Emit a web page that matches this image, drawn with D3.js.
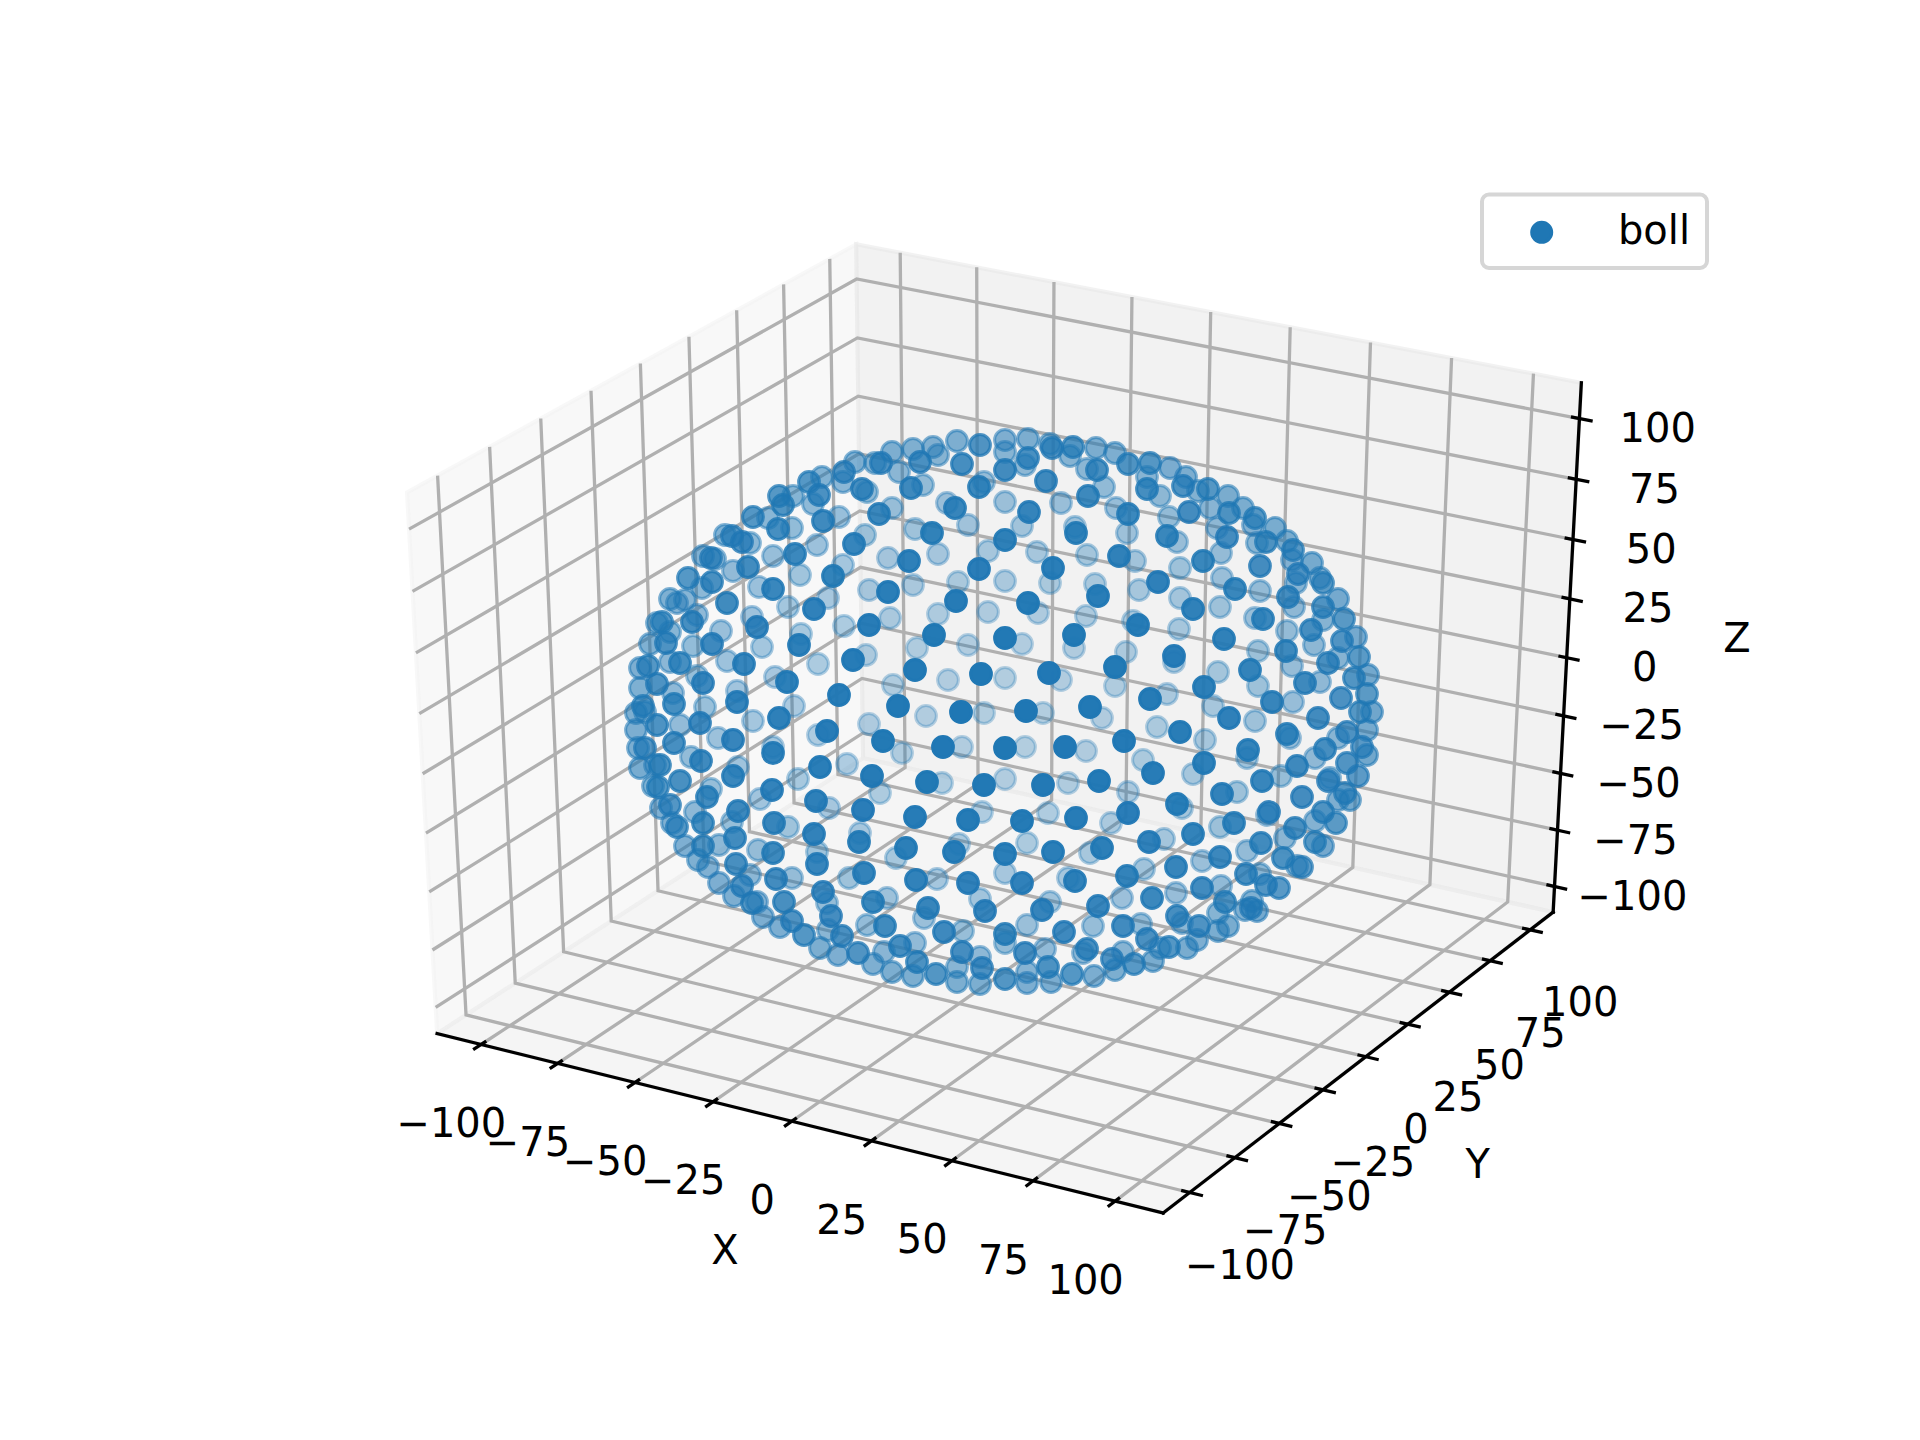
<!DOCTYPE html>
<html>
<head>
<meta charset="utf-8">
<script src="https://cdn.jsdelivr.net/npm/d3@7/dist/d3.min.js"></script>
<style>
html,body{margin:0;padding:0;background:#fff}
svg{display:block}
text{font-family:"DejaVu Sans";fill:#000}
</style>
</head>
<body>
<div id="chart"></div>
<script>
const tickValues = [-100,-75,-50,-25,0,25,50,75,100];
const tickLabels = ["\u2212100","\u221275","\u221250","\u221225","0","25","50","75","100"];
const axisLabels = {x:"X", y:"Y", z:"Z"};
const seriesName = "boll";

// Points, in the projected view plane (sphere centre = 0,0; v grows downward)
const frontPoints = [
[-20,-265],[-38,-246],[-21,-223],[-80,-248],[-119,-247],[-156,-238],[-191,-228],[-138,-221],[-89,-222],[-181,-215],
[-221,-214],[-217,-205],[-247,-193],[-177,-189],[-121,-196],[-45,-202],[-68,-177],[-146,-166],[-222,-181],[-268,-174],
[-258,-168],[-289,-152],[-252,-143],[-205,-156],[-21,-141],[-91,-149],[-167,-134],[-312,-132],[-288,-128],[-227,-121],
[-112,-118],[-44,-109],[-273,-107],[-186,-101],[-338,-88],[-308,-88],[-243,-83],[-131,-85],[-201,-65],[-66,-75],
[-334,-67],[-288,-66],[-147,-50],[-85,-40],[-19,-36],[-256,-46],[-320,-47],[-352,-44],[-297,-27],[-213,-28],
[-343,-26],[-326,-6],[-263,-8],[-161,-15],[-102,-4],[-357,-4],
[5,-240],[28,-252],[52,-262],[73,-263],[46,-229],[97,-240],[88,-214],[128,-246],[150,-247],[147,-221],
[183,-224],[128,-196],[29,-198],[189,-198],[208,-221],[229,-197],[255,-192],[167,-174],[227,-173],[266,-168],
[293,-160],[76,-177],[5,-170],[119,-154],[53,-142],[203,-149],[260,-144],[298,-136],[323,-127],[158,-128],
[235,-121],[288,-113],[323,-103],[28,-107],[98,-114],[193,-101],[263,-91],[344,-91],[311,-80],[138,-85],
[5,-72],[74,-75],[224,-71],[342,-69],[286,-59],[174,-54],[328,-47],[359,-53],[115,-43],[250,-40],
[354,-32],[49,-37],[204,-23],[305,-27],[367,-16],[341,-12],[150,-11],[272,-8],[90,-3],[26,1],
[-343,15],[-355,38],[-300,13],[-267,30],[-221,8],[-173,21],[-117,31],[-57,37],[-39,2],[-326,33],
[-227,43],[-299,51],[-180,57],[-128,66],[-73,72],[-16,75],[-267,66],[-340,55],[-320,71],[-228,80],
[-184,91],[-137,100],[-85,107],[-32,110],[-293,87],[-262,101],[-226,113],[-186,124],[-141,132],[-94,138],
[-46,142],[-297,113],[-265,128],[-227,143],[-183,154],[-136,163],[-84,170],[-32,173],[-264,154],[-224,169],
[-177,182],[-127,192],[-72,198],[-15,201],[-216,192],[-169,206],[-115,216],[-56,222],[-258,176],[-248,193],
[-297,136],[-342,77],[-330,95],[-323,117],[-158,226],[-100,236],[-38,242],[-208,211],[-196,225],[-142,243],
[-83,252],[-64,264],[-18,258],
[5,38],[65,37],[124,31],[180,22],[229,8],[318,8],[360,2],[248,40],[287,24],[325,39],
[347,22],[204,53],[153,63],[43,75],[99,71],[297,56],[262,71],[347,53],[358,66],[328,71],
[362,37],[302,87],[222,84],[177,94],[345,83],[128,103],[76,108],[22,111],[269,102],[323,102],
[336,113],[234,113],[193,124],[295,118],[149,132],[102,138],[53,142],[5,144],[261,133],[315,132],
[220,147],[283,148],[302,157],[176,157],[127,166],[75,171],[22,173],[246,164],[266,175],[279,178],
[202,178],[152,188],[98,196],[42,200],[225,192],[177,206],[123,216],[64,222],[5,224],[199,216],
[147,229],[87,239],[25,243],[112,249],[48,257],[72,264],[5,269],[134,254],[169,237],[251,198]
];
const backPoints = [
[-43,-269],[-67,-263],[-62,-255],[-87,-261],[-108,-258],[-101,-238],[-125,-247],[-145,-248],[-157,-228],[-178,-233],
[-133,-218],[-77,-225],[-187,-206],[-207,-214],[-232,-192],[-161,-193],[-108,-202],[-53,-207],[-32,-185],[-85,-181],
[-135,-175],[-183,-165],[-208,-182],[-275,-175],[-250,-167],[-297,-154],[-285,-151],[-267,-139],[-227,-154],[-16,-228],
[-12,-159],[-112,-152],[-62,-156],[-157,-145],[-200,-135],[-298,-122],[-241,-123],[-87,-125],[-131,-120],[-42,-128],
[-330,-111],[-323,-107],[-315,-110],[-212,-103],[-172,-112],[-62,-96],[-12,-98],[-343,-87],[-330,-78],[-303,-95],
[-248,-93],[-279,-79],[-110,-92],[-156,-84],[-199,-76],[-32,-65],[-350,-66],[-307,-64],[-238,-63],[-83,-62],
[-134,-55],[-182,-46],[-52,-30],[-273,-49],[-330,-48],[-360,-42],[-303,-34],[-225,-33],[-360,-22],[-327,-17],
[-263,-19],[-107,-25],[-206,-4],[-295,-3],
[5,-270],[5,-258],[28,-271],[25,-245],[50,-266],[70,-254],[96,-262],[87,-241],[115,-257],[104,-223],
[147,-233],[170,-242],[186,-233],[160,-214],[198,-219],[228,-214],[210,-202],[243,-202],[275,-182],[253,-185],
[217,-182],[169,-193],[116,-202],[61,-207],[5,-208],[22,-184],[75,-183],[127,-177],[177,-168],[221,-157],
[257,-167],[287,-169],[292,-150],[312,-147],[320,-132],[296,-127],[37,-158],[87,-155],[135,-149],[180,-142],
[222,-132],[260,-119],[5,-129],[50,-127],[95,-126],[139,-120],[180,-112],[220,-103],[294,-103],[338,-111],
[323,-90],[38,-97],[86,-94],[133,-89],[179,-81],[255,-92],[287,-79],[356,-73],[22,-66],[74,-62],
[126,-58],[174,-48],[258,-59],[314,-65],[338,-52],[292,-44],[368,-35],[5,-32],[61,-30],[115,-24],
[167,-16],[218,-38],[258,-24],[320,-28],[213,-4],[293,-8],
[-364,20],[-364,3],[-355,2],[-362,38],[-360,58],[-345,55],[-347,76],[-339,98],[-328,113],[-315,136],
[-302,150],[-292,157],[-281,173],[-266,186],[-237,207],[-220,217],[-180,238],[-162,245],[-127,254],[-108,262],
[-43,272],[-20,274],[-87,266],
[-320,15],[-282,28],[-247,11],[-131,14],[-74,6],[-38,37],[-16,3],[-227,37],[-182,25],[-309,47],
[-262,57],[-98,43],[-153,54],[-58,73],[-202,69],[-240,89],[-120,83],[-289,79],[-171,98],[-305,102],
[-268,112],[-18,102],[-212,117],[-140,123],[-281,135],[-242,140],[-183,142],[-41,134],[-104,148],[-250,165],
[-208,168],[-151,168],[-63,169],[-20,189],[-113,188],[-173,193],[-243,192],[-76,208],[-133,215],[-37,221],
[-172,220],[-85,233],[-116,242],[-20,247],[-43,257],
[43,3],[102,8],[372,2],[367,20],[157,17],[205,30],[255,11],[25,37],[86,41],[143,50],
[247,48],[290,28],[315,48],[338,28],[367,45],[330,68],[350,90],[5,69],[68,73],[128,82],
[193,64],[237,82],[281,66],[338,90],[182,98],[48,103],[111,113],[220,117],[267,105],[315,111],
[27,133],[90,143],[164,129],[247,141],[285,128],[323,136],[202,151],[5,163],[68,168],[144,159],
[122,188],[176,183],[221,176],[260,164],[297,156],[50,192],[27,215],[93,216],[141,214],[182,213],
[218,203],[252,191],[245,200],[257,201],[228,216],[218,221],[197,230],[187,238],[160,238],[153,251],
[123,242],[115,260],[94,266],[83,243],[45,239],[27,262],[27,273],[51,272],[5,233]
];

// ---------- 3D axes (same view as mplot3d: elev 30, azim -60, dist 10) ----------
const W = 1920, H = 1440;
const BLUE = "#1f77b4";
const xPane = [-114.5, 114.5], yPane = [-114.5, 114.5], zPane = [-111.5, 114.6];
const worldX = d3.scaleLinear().domain([-100,100]).range([-0.455,0.455]);
const worldY = d3.scaleLinear().domain([-100,100]).range([-0.455,0.455]);
const worldZ = d3.scaleLinear().domain([-100,100]).range([-0.4694,0.4315]);
const screenX = d3.scaleLinear().domain([-0.095,0.09]).range([240,1728]);
const screenY = d3.scaleLinear().domain([-0.095,0.09]).range([1281.6,158.4]);
const DIST = 10;
const el = 30*Math.PI/180, az = -60*Math.PI/180;
const n = [Math.cos(el)*Math.cos(az), Math.cos(el)*Math.sin(az), Math.sin(el)];
const uu = [-Math.sin(az), Math.cos(az), 0];
const vv = [n[1]*uu[2]-n[2]*uu[1], n[2]*uu[0]-n[0]*uu[2], n[0]*uu[1]-n[1]*uu[0]];
const dot = (a,b)=>a[0]*b[0]+a[1]*b[1]+a[2]*b[2];
function project(x,y,z){
  const q = [worldX(x),worldY(y),worldZ(z)];
  const w = DIST - dot(q,n);
  return [screenX(dot(q,uu)/w), screenY(dot(q,vv)/w)];
}
const line3 = d3.line();
const pathOf = pts => line3(pts.map(p=>project(p[0],p[1],p[2])));

const svg = d3.select("#chart").append("svg").attr("width",W).attr("height",H).attr("viewBox",[0,0,W,H]);

const [x0,x1]=xPane,[y0,y1]=yPane,[z0,z1]=zPane;
const panes = [
  {c:"rgb(242,242,242)", p:[[x0,y0,z0],[x0,y1,z0],[x0,y1,z1],[x0,y0,z1]]},
  {c:"rgb(230,230,230)", p:[[x0,y1,z0],[x1,y1,z0],[x1,y1,z1],[x0,y1,z1]]},
  {c:"rgb(236,236,236)", p:[[x0,y0,z0],[x1,y0,z0],[x1,y1,z0],[x0,y1,z0]]}
];
svg.append("g").selectAll("path").data(panes).join("path")
  .attr("d",d=>pathOf(d.p)+"Z").attr("fill",d=>d.c).attr("fill-opacity",0.5)
  .attr("stroke",d=>d.c).attr("stroke-opacity",0.5).attr("stroke-width",4);

// grid
const grid = [];
tickValues.forEach(t=>{
  grid.push([[t,y0,z0],[t,y1,z0],[t,y1,z1]]);
  grid.push([[x1,t,z0],[x0,t,z0],[x0,t,z1]]);
  grid.push([[x0,y0,t],[x0,y1,t],[x1,y1,t]]);
});
svg.append("g").selectAll("path").data(grid).join("path")
  .attr("d",pathOf).attr("fill","none").attr("stroke","#b0b0b0").attr("stroke-width",3.3);

// axis lines
const axes = [[[x0,y0,z0],[x1,y0,z0]],[[x1,y0,z0],[x1,y1,z0]],[[x1,y1,z0],[x1,y1,z1]]];
svg.append("g").selectAll("path").data(axes).join("path")
  .attr("d",pathOf).attr("fill","none").attr("stroke","#000").attr("stroke-width",3.3).attr("stroke-linecap","square");

// ticks
const dY=(y1-y0)/12, dX=(x1-x0)/12;
const OUT=0.21, IN=0.135, LABEL_OUT=0.1;
const ticks=[], labels=[];
const labelOffset={x:[-26,76],y:[44,71],z:[72,8]};
tickValues.forEach((t,i)=>{
  ticks.push([[t,y0-OUT*dY,z0],[t,y0+IN*dY,z0]]);
  ticks.push([[x1+OUT*dX,t,z0],[x1-IN*dX,t,z0]]);
  ticks.push([[x1+OUT*dX,y1,t],[x1-IN*dX,y1,t]]);
  const px=project(t,y0-LABEL_OUT*dY,z0), py=project(x1+LABEL_OUT*dX,t,z0), pz=project(x1+LABEL_OUT*dX,y1,t);
  labels.push({s:tickLabels[i],x:px[0]+labelOffset.x[0],y:px[1]+labelOffset.x[1]});
  labels.push({s:tickLabels[i],x:py[0]+labelOffset.y[0],y:py[1]+labelOffset.y[1]});
  labels.push({s:tickLabels[i],x:pz[0]+labelOffset.z[0],y:pz[1]+labelOffset.z[1]});
});
svg.append("g").selectAll("path").data(ticks).join("path")
  .attr("d",pathOf).attr("fill","none").attr("stroke","#000").attr("stroke-width",3.3);

svg.append("g").selectAll("text").data(labels).join("text")
  .attr("x",d=>d.x).attr("y",d=>d.y).attr("text-anchor","middle").attr("dominant-baseline","central")
  .attr("font-size",40).text(d=>d.s);

// axis titles, placed from the projected mid-edge of each axis
const midX=project(0,y0,z0), midY=project(x1,0,z0), midZ=project(x1,y1,(z0+z1)/2);
const titles=[
  {s:axisLabels.x,x:midX[0]-67,y:midX[1]+129},
  {s:axisLabels.y,x:midY[0]+112,y:midY[1]+107},
  {s:axisLabels.z,x:midZ[0]+170,y:midZ[1]-16}
];
svg.append("g").selectAll("text").data(titles).join("text")
  .attr("x",d=>d.x).attr("y",d=>d.y).attr("text-anchor","middle").attr("dominant-baseline","central")
  .attr("font-size",40).text(d=>d.s);

// ---------- scatter ----------
const planeX = d3.scaleLinear().domain([-400,400]).range([600,1400]);
const planeY = d3.scaleLinear().domain([-400,400]).range([310,1110]);
const alphaOf = d3.scaleLinear().domain([-1,1]).range([0.3,1]);
const RA=374, RB=282;
const depth=(p,s)=>{const r=(p[0]/RA)**2+(p[1]/RB)**2;return s*Math.sqrt(Math.max(0,1-r));};
const pts = frontPoints.map(p=>({u:p[0],v:p[1],d:depth(p,1)}))
  .concat(backPoints.map(p=>({u:p[0],v:p[1],d:depth(p,-1)})))
  .sort((a,b)=>d3.ascending(a.d,b.d));
svg.append("g").selectAll("circle").data(pts).join("circle")
  .attr("cx",d=>planeX(d.u)).attr("cy",d=>planeY(d.v)).attr("r",10.4)
  .attr("fill",BLUE).attr("stroke",BLUE).attr("stroke-width",3)
  .attr("fill-opacity",d=>alphaOf(d.d)).attr("stroke-opacity",d=>alphaOf(d.d));

// ---------- legend ----------
const lg=svg.append("g");
lg.append("rect").attr("x",1482).attr("y",194.6).attr("width",225).attr("height",73.4).attr("rx",7)
  .attr("fill","#fff").attr("fill-opacity",0.8).attr("stroke","#d6d6d6").attr("stroke-width",4);
lg.append("circle").attr("cx",1541.7).attr("cy",232.3).attr("r",10).attr("fill",BLUE).attr("stroke",BLUE).attr("stroke-width",3);
lg.append("text").attr("x",1690).attr("y",244).attr("text-anchor","end").attr("font-size",40).text(seriesName);
</script>
</body>
</html>
